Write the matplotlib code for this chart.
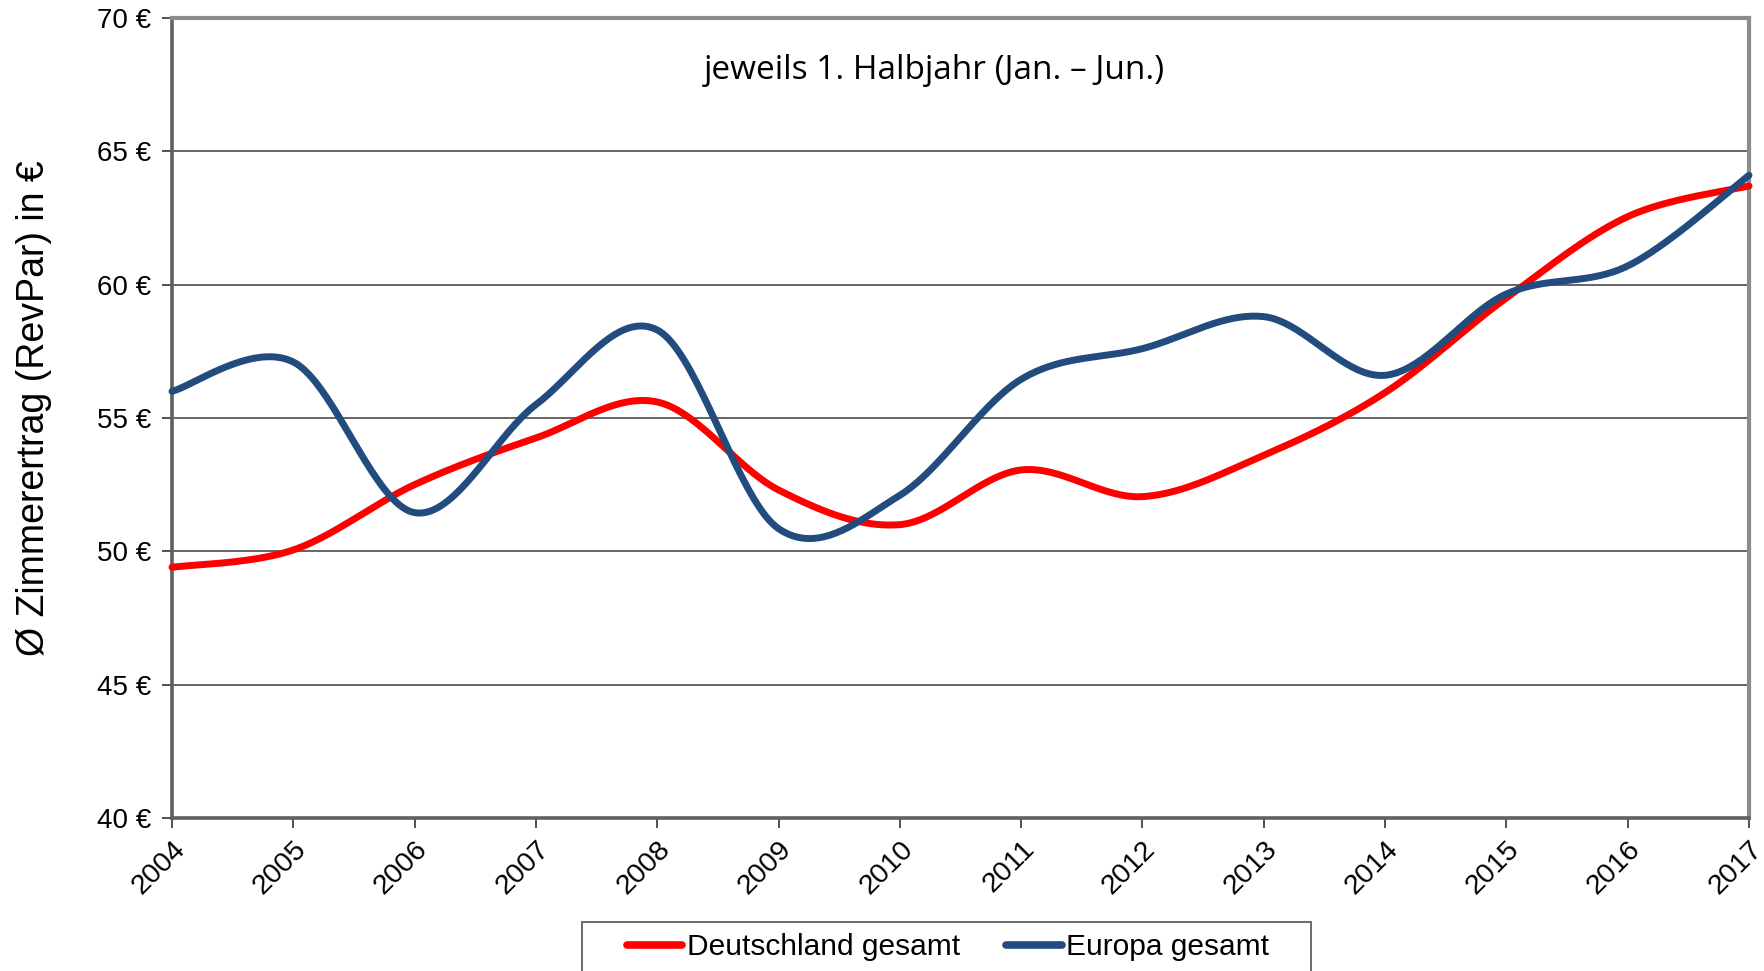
import numpy as np
import matplotlib
matplotlib.use("Agg")
import matplotlib.pyplot as plt
from matplotlib.lines import Line2D
from matplotlib.patches import Rectangle

years = [2004, 2005, 2006, 2007, 2008, 2009, 2010, 2011, 2012, 2013, 2014, 2015, 2016, 2017]
deutschland = [49.4, 50.05, 52.5, 54.25, 55.6, 52.3, 51.0, 53.05, 52.05, 53.6, 55.95, 59.5, 62.55, 63.7]
europa = [56.0, 57.1, 51.45, 55.5, 58.3, 50.85, 52.1, 56.45, 57.6, 58.8, 56.6, 59.65, 60.7, 64.1]
yticks = [40, 45, 50, 55, 60, 65, 70]
series_names = ["Deutschland gesamt", "Europa gesamt"]
colors = ["#FF0000", "#224B7E"]


def smooth(xs, ys, n=40):
    """Catmull-Rom style smoothing (like Excel smoothed lines) as cubic Bezier."""
    xs = np.asarray(xs, float)
    ys = np.asarray(ys, float)
    px, py = [], []
    m = len(xs)
    for i in range(m - 1):
        x0, y0 = (xs[i - 1], ys[i - 1]) if i > 0 else (xs[i], ys[i])
        x1, y1 = xs[i], ys[i]
        x2, y2 = xs[i + 1], ys[i + 1]
        x3, y3 = (xs[i + 2], ys[i + 2]) if i + 2 < m else (xs[i + 1], ys[i + 1])
        c1x = x1 + (x2 - x0) / 6.0
        c1y = y1 + (y2 - y0) / 6.0
        c2x = x2 - (x3 - x1) / 6.0
        c2y = y2 - (y3 - y1) / 6.0
        t = np.linspace(0, 1, n, endpoint=(i == m - 2))
        b0 = (1 - t) ** 3
        b1 = 3 * (1 - t) ** 2 * t
        b2 = 3 * (1 - t) * t ** 2
        b3 = t ** 3
        px.append(b0 * x1 + b1 * c1x + b2 * c2x + b3 * x2)
        py.append(b0 * y1 + b1 * c1y + b2 * c2y + b3 * y2)
    return np.concatenate(px), np.concatenate(py)


plt.rcParams['font.family'] = ['Liberation Sans', 'DejaVu Sans']

fig = plt.figure(figsize=(17.64, 9.71), dpi=100)
ax = fig.add_axes([0.0975, 0.1576, 0.894, 0.8239])

for yv in yticks[1:-1]:
    ax.axhline(yv, color="#3a3a3a", lw=1.1, zorder=1)

handles = []
for vals, name, c in zip([deutschland, europa], series_names, colors):
    sx, sy = smooth(years, vals)
    ax.plot(sx, sy, color=c, lw=5.0, solid_capstyle="round", zorder=3, clip_on=False)
    handles.append(Line2D([0], [0], color=c, lw=5.5, solid_capstyle="round", label=name))

ax.set_xlim(years[0], years[-1])
ax.set_ylim(40, 70)
ax.set_xticks(years)
ax.set_xticklabels([str(y) for y in years], rotation=45, ha="right", va="top",
                   rotation_mode="anchor", fontsize=20.5)
ax.set_yticks(yticks)
ax.set_yticklabels([f"{v} €" for v in yticks], fontsize=20)
ax.tick_params(axis="both", direction="out", length=7, width=1.2, color="#333333")
ax.tick_params(axis="y", pad=8)
ax.tick_params(axis="x", pad=6)

for side in ["left", "bottom"]:
    ax.spines[side].set_color("#606060")
    ax.spines[side].set_linewidth(2.6)
for side in ["top", "right"]:
    ax.spines[side].set_color("#8c8c8c")
    ax.spines[side].set_linewidth(3)

ax.set_ylabel("Ø Zimmerertrag (RevPar) in €", fontsize=27)
ax.yaxis.set_label_coords(-0.076, 0.512)

fig.text(0.5295, 0.927, "jeweils 1. Halbjahr (Jan. – Jun.)", ha="center", va="center",
         fontsize=24, family=["Open Sans", "DejaVu Sans"])

# legend frame (extends past the bottom edge as in the reference)
W, H = 1764.0, 971.0
fig.patches.append(Rectangle((582 / W, -0.02), (1311 - 582) / W, 0.02 + (H - 922) / H,
                             transform=fig.transFigure, fill=False, edgecolor="#606060",
                             lw=1.3, zorder=5))

leg = fig.legend(handles=handles, loc="center", bbox_to_anchor=(0.5375, 1 - 947 / H),
                 ncol=2, frameon=False, fontsize=21.5, handlelength=1.85, handletextpad=0.15,
                 columnspacing=1.55, borderpad=0.0, borderaxespad=0.0)

fig.savefig("out.png", dpi=100)
